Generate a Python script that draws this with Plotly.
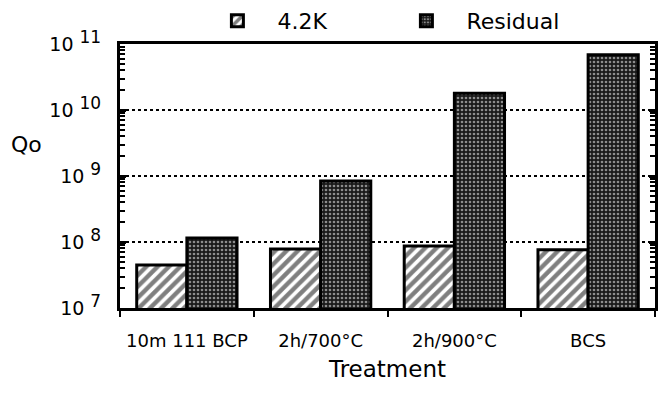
import plotly.graph_objects as go

categories = ["10m 111 BCP", "2h/700°C", "2h/900°C", "BCS"]
q_42k = [4.5e7, 7.8e7, 8.7e7, 7.6e7]
q_residual = [1.15e8, 8.4e8, 1.8e10, 6.9e10]
y_tickvals = [1e7, 1e8, 1e9, 1e10, 1e11]
y_exponents = ["7", "8", "9", "10", "11"]
y_ticktext = ["10 <sup><span style='font-size:17px'>%s</span></sup>" % e for e in y_exponents]
minor_vals = [k * 10 ** n for n in range(7, 11) for k in range(2, 10)]

FONT = "DejaVu Sans"

fig = go.Figure()
fig.add_trace(go.Bar(
    name="4.2K", x=categories, y=q_42k,
    marker=dict(color="white", line=dict(color="black", width=3),
                pattern=dict(shape="/", fgcolor="black", bgcolor="white", size=8, solidity=0.55)),
))
fig.add_trace(go.Bar(
    name="Residual", x=categories, y=q_residual,
    marker=dict(color="#222", line=dict(color="black", width=3),
                pattern=dict(shape=".", fgcolor="white", bgcolor="#1a1a1a", size=4, solidity=0.35)),
))

fig.update_layout(
    width=658, height=394,
    margin=dict(l=120, r=3, t=44, b=86, autoexpand=False),
    paper_bgcolor="white", plot_bgcolor="white",
    barmode="group", bargap=0.25, bargroupgap=0,
    font=dict(family=FONT, color="black", size=18),
    showlegend=True,
    legend=dict(orientation="h", x=0.3, xref="container", xanchor="left",
                y=1.0, yref="container", yanchor="top",
                font=dict(size=22, family=FONT), itemwidth=70,
                entrywidth=104, entrywidthmode="pixels",
                bgcolor="rgba(0,0,0,0)", traceorder="normal"),
)

fig.update_xaxes(
    type="category", showline=True, linecolor="black", linewidth=3, mirror=True,
    ticks="outside", tickson="boundaries", ticklen=6, tickwidth=2, tickcolor="black",
    tickangle=0, tickfont=dict(size=18, family=FONT), ticklabelstandoff=14,
    title=dict(text="Treatment", font=dict(size=23, family=FONT), standoff=12),
    showgrid=False,
)
fig.update_yaxes(
    type="log", range=[7, 11], showline=True, linecolor="black", linewidth=3, mirror="ticks",
    tickmode="array", tickvals=y_tickvals, ticktext=y_ticktext,
    ticks="inside", ticklen=6, tickwidth=3, tickcolor="black",
    tickfont=dict(size=19, family=FONT), ticklabelstandoff=12,
    showgrid=True, gridcolor="black", gridwidth=2, griddash="dot",
    minor=dict(tickmode="array", tickvals=minor_vals, ticks="inside", ticklen=5,
               tickwidth=2, tickcolor="black", showgrid=False),
    zeroline=False,
)

fig.add_annotation(text="Qo", xref="paper", yref="paper", x=-0.175, y=0.62,
                   xanchor="center", yanchor="middle", showarrow=False,
                   font=dict(size=22, family=FONT))

fig.write_html("out.html", config={"displayModeBar": False},
               post_script="document.body.style.margin='0';document.body.style.overflow='hidden';")
